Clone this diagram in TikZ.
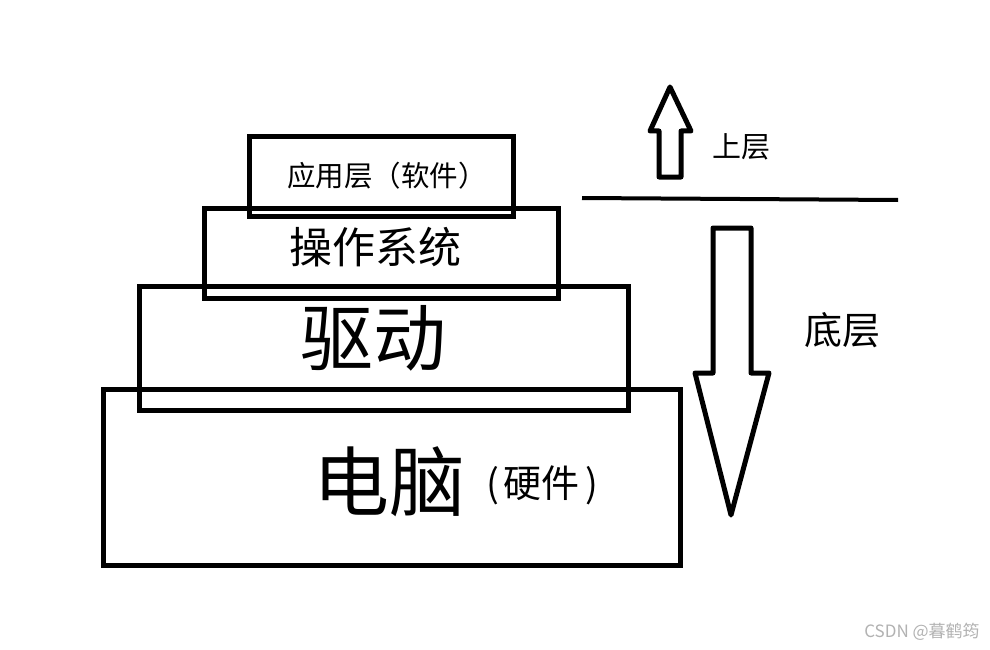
\documentclass[tikz,border=0pt]{standalone}
\usepackage{fontspec}
\setmainfont{Noto Sans CJK SC}
\begin{document}
\begin{tikzpicture}[x=1pt,y=-1pt,
  layer/.style={draw=black,line width=5pt,fill=none},
  bigarrow/.style={draw=black,line width=5pt,line join=round,fill=none},
  lbl/.style={inner sep=0pt,anchor=center,text=black}]
\useasboundingbox (0,0) rectangle (990,650);
\fill[white] (0,0) rectangle (990,650);
% layer boxes
\draw[layer] (103,389) rectangle (680,565);
\draw[layer] (139,286) rectangle (628,410);
\draw[layer] (204,208) rectangle (558,298);
\draw[layer] (249,137) rectangle (513,216);
% texts
\node[lbl,font=\fontsize{28.5}{28.5}\selectfont] (app) at (387,176) {应用层（软件）};
\node[lbl,font=\fontsize{43}{43}\selectfont] (os) at (375,247) {操作系统};
\node[lbl,font=\fontsize{73}{73}\selectfont] (drv) at (373,338) {驱动};
\node[lbl,font=\fontsize{76}{76}\selectfont] (pc) at (389,482) {电脑};
\node[lbl,font=\fontsize{38}{38}\selectfont] (hw) at (542,485) {(\hspace{5pt}硬件\hspace{5pt})};
% divider
\coordinate (dl) at (582,198);
\coordinate (dr) at (898,200);
\draw[line width=4pt] (dl) -- (dr);
% up arrow
\draw[bigarrow] (670,87) -- (691,131) -- (681,131) -- (681,177) -- (659,177) -- (659,131) -- (650,131) -- cycle;
\node[lbl,font=\fontsize{29}{29}\selectfont] (up) at (741,147) {上层};
% down arrow
\draw[bigarrow] (713,228) -- (751,228) -- (751,373) -- (769,373) -- (731,515) -- (695,373) -- (713,373) -- cycle;
\node[lbl,font=\fontsize{38}{38}\selectfont] (down) at (842,330) {底层};
% watermark
\node[lbl,font=\fontsize{17}{17}\selectfont,text=black!30] (wm) at (922,632) {CSDN @暮鹤筠};
\end{tikzpicture}
\end{document}
